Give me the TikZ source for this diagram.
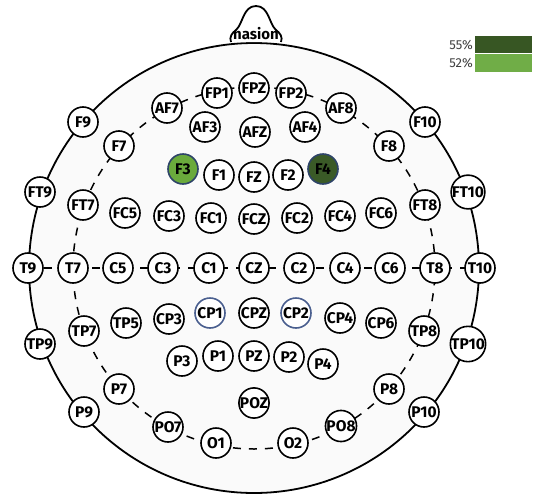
\documentclass[tikz,border=0pt]{standalone}
\usepackage{fontspec}
\setmainfont{Fira Sans}
\usetikzlibrary{backgrounds}
\definecolor{darkg}{HTML}{3A5A27}
\definecolor{lightg}{HTML}{6AAA3C}
\definecolor{legdark}{HTML}{375623}
\definecolor{leglight}{HTML}{70AD47}
\definecolor{bordblue}{HTML}{2E4468}
\definecolor{cpblue}{HTML}{4A5F8F}
\begin{document}
\begin{tikzpicture}[x=1pt,y=-1pt,
  el/.style={circle,draw=black,line width=1.6pt,fill=white,minimum size=30pt,inner sep=0pt,
    font=\fontsize{15.5}{16}\selectfont\bfseries},
  hiF3/.style={el,fill=lightg,draw=bordblue},
  hiF4/.style={el,fill=darkg,draw=bordblue},
  hiCP/.style={el,draw=cpblue},
  ring/.style={line width=1.5pt,dash pattern=on 8pt off 8pt},
  legtext/.style={anchor=east,inner sep=0pt,text=black!75,font=\fontsize{13}{14}\selectfont}]
\useasboundingbox (0,0) rectangle (533,493);
% head centre
\coordinate (head) at (254,268);
% legend
\fill[legdark] (475,36) rectangle (532,53);
\fill[leglight] (475,54) rectangle (532,72);
\node[legtext] (l55) at (473,45) {55\%};
\node[legtext] (l52) at (473,63) {52\%};
% electrodes: midline row
\node[el] (T9) at (28,268) {T9};
\node[el] (T7) at (73,268) {T7};
\node[el] (C5) at (118,268) {C5};
\node[el] (C3) at (163,268) {C3};
\node[el] (C1) at (209,268) {C1};
\node[el] (CZ) at (254,268) {CZ};
\node[el] (C2) at (299,268) {C2};
\node[el] (C4) at (345,268) {C4};
\node[el] (C6) at (390,268) {C6};
\node[el] (T8) at (435,268) {T8};
\node[el] (T10) at (480,268) {T10};
% outer ring
\node[el] (F9) at (83,122) {F9};
\node[el] (F10) at (425,122) {F10};
\node[el] (FT9) at (40,192) {FT9};
\node[el] (FT10) at (468,192) {FT10};
\node[el] (TP9) at (40,344) {TP9};
\node[el] (TP10) at (468,344) {TP10};
\node[el] (P9) at (84,412) {P9};
\node[el] (P10) at (424,412) {P10};
% inner ring
\node[el] (FPZ) at (254,88) {FPZ};
\node[el] (FP1) at (217,93) {FP1};
\node[el] (FP2) at (291,93) {FP2};
\node[el] (AF7) at (167,108) {AF7};
\node[el] (AF8) at (341,108) {AF8};
\node[el] (F7) at (119,146) {F7};
\node[el] (F8) at (389,146) {F8};
\node[el] (FT7) at (83,205) {FT7};
\node[el] (FT8) at (425,205) {FT8};
\node[el] (TP7) at (84,331) {TP7};
\node[el] (TP8) at (424,331) {TP8};
\node[el] (P7) at (119,389) {P7};
\node[el] (P8) at (389,389) {P8};
\node[el] (PO7) at (168,427) {PO7};
\node[el] (PO8) at (341,426) {PO8};
\node[el] (O1) at (216,443) {O1};
\node[el] (O2) at (293,443) {O2};
% AF row
\node[el] (AF3) at (205,127) {AF3};
\node[el] (AFZ) at (255,132) {AFZ};
\node[el] (AF4) at (305,127) {AF4};
% F row
\node[hiF3] (F3) at (183,169) {F3};
\node[el] (F1) at (219,175) {F1};
\node[el] (FZ) at (254,177) {FZ};
\node[el] (F2) at (288,175) {F2};
\node[hiF4] (F4) at (323,169) {F4};
% FC row
\node[el] (FC5) at (125,213) {FC5};
\node[el] (FC3) at (169,216) {FC3};
\node[el] (FC1) at (211,218) {FC1};
\node[el] (FCZ) at (254,219) {FCZ};
\node[el] (FC2) at (297,218) {FC2};
\node[el] (FC4) at (340,216) {FC4};
\node[el] (FC6) at (381,213) {FC6};
% CP row
\node[el] (TP5) at (126,323) {TP5};
\node[el] (CP3) at (169,319) {CP3};
\node[hiCP] (CP1) at (210,313) {CP1};
\node[el] (CPZ) at (254,313) {CPZ};
\node[hiCP] (CP2) at (296,313) {CP2};
\node[el] (CP4) at (340,318) {CP4};
\node[el] (CP6) at (381,323) {CP6};
% P row
\node[el] (P3) at (182,361) {P3};
\node[el] (P1) at (218,356) {P1};
\node[el] (PZ) at (254,356) {PZ};
\node[el] (P2) at (289,357) {P2};
\node[el] (P4) at (323,364) {P4};
\node[el] (POZ) at (254,403) {POZ};
\begin{scope}[on background layer]
  \fill[white] (0,0) rectangle (533,493);
  \draw[line width=1.8pt,fill=black!2] (head) circle (225pt);
  % nasion
  \draw[line width=1.8pt,fill=white] (231,42) .. controls (229,37) and (232,33) .. (236,30)
    .. controls (243,24) and (243,6) .. (256,6)
    .. controls (269,6) and (269,24) .. (276,30)
    .. controls (280,33) and (283,37) .. (281,42);
  % inner dashed ring
  \draw[ring] (head) circle (181pt);
  % horizontal dashed line
  \draw[ring] (T9.center) -- (T10.center);
\end{scope}
\node[font=\fontsize{15}{15}\selectfont\bfseries,inner sep=0pt] (nasion) at (256,34) {nasion};
\end{tikzpicture}
\end{document}
